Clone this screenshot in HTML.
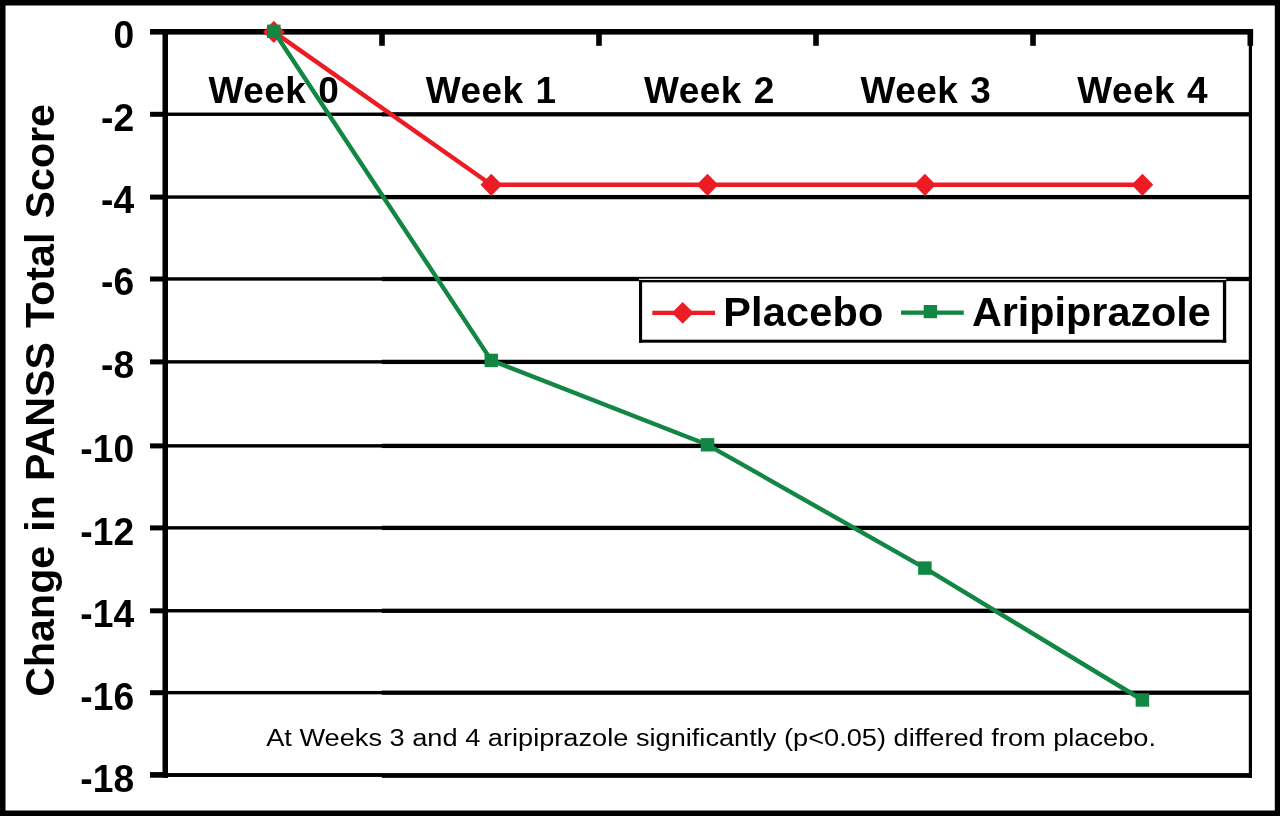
<!DOCTYPE html>
<html><head><meta charset="utf-8"><title>Change in PANSS Total Score</title>
<style>
html,body{margin:0;padding:0;background:#fff;}
body{width:1280px;height:816px;overflow:hidden;font-family:"Liberation Sans",sans-serif;}
svg{display:block;will-change:transform;}
text{font-family:"Liberation Sans",sans-serif;fill:#000;}
.b{font-weight:bold;}
</style></head><body>
<svg width="1280" height="816" viewBox="0 0 1280 816">
<rect x="0" y="0" width="1280" height="816" fill="#fff"/>
<path d="M0 0H1280V816H0Z M5.5 5.4V810.4H1274.8V5.4Z" fill="#000" fill-rule="evenodd"/>
<rect x="150" y="111.80" width="14" height="5" fill="#000"/>
<rect x="164" y="112.55" width="218" height="3.4" fill="#000"/>
<rect x="381.8" y="112.15" width="869" height="4.3" fill="#000"/>
<rect x="150" y="194.60" width="14" height="5" fill="#000"/>
<rect x="164" y="195.35" width="218" height="3.4" fill="#000"/>
<rect x="381.8" y="194.95" width="869" height="4.3" fill="#000"/>
<rect x="150" y="276.50" width="14" height="5" fill="#000"/>
<rect x="164" y="277.25" width="218" height="3.4" fill="#000"/>
<rect x="381.8" y="276.85" width="869" height="4.3" fill="#000"/>
<rect x="150" y="359.40" width="14" height="5" fill="#000"/>
<rect x="164" y="360.15" width="218" height="3.4" fill="#000"/>
<rect x="381.8" y="359.75" width="869" height="4.3" fill="#000"/>
<rect x="150" y="443.40" width="14" height="5" fill="#000"/>
<rect x="164" y="444.15" width="218" height="3.4" fill="#000"/>
<rect x="381.8" y="443.75" width="869" height="4.3" fill="#000"/>
<rect x="150" y="525.40" width="14" height="5" fill="#000"/>
<rect x="164" y="526.15" width="218" height="3.4" fill="#000"/>
<rect x="381.8" y="525.75" width="869" height="4.3" fill="#000"/>
<rect x="150" y="608.30" width="14" height="5" fill="#000"/>
<rect x="164" y="609.05" width="218" height="3.4" fill="#000"/>
<rect x="381.8" y="608.65" width="869" height="4.3" fill="#000"/>
<rect x="150" y="690.20" width="14" height="5" fill="#000"/>
<rect x="164" y="690.95" width="218" height="3.4" fill="#000"/>
<rect x="381.8" y="690.55" width="869" height="4.3" fill="#000"/>
<rect x="150" y="29" width="1103.1" height="5.6" fill="#000"/>
<rect x="150" y="772.10" width="18" height="5.6" fill="#000"/>
<rect x="164" y="773.05" width="218" height="3.9" fill="#000"/>
<rect x="381.8" y="773.10" width="870.2" height="4.75" fill="#000"/>
<rect x="162.5" y="29" width="5.5" height="748.75" fill="#000"/>
<rect x="1248.8" y="29" width="3.2" height="748.75" fill="#000"/>
<rect x="379.2" y="31" width="5.6" height="14.8" fill="#000"/>
<rect x="596.2" y="31" width="5.6" height="14.8" fill="#000"/>
<rect x="813.2" y="31" width="5.6" height="14.8" fill="#000"/>
<rect x="1030.2" y="31" width="5.6" height="14.8" fill="#000"/>
<rect x="1247.5" y="31" width="5.6" height="14.8" fill="#000"/>
<text class="b" transform="translate(134.1,47.50) scale(1,1.05)" font-size="37.2" text-anchor="end">0</text>
<text class="b" transform="translate(134.1,130.95) scale(1,1.05)" font-size="37.2" text-anchor="end">-2</text>
<text class="b" transform="translate(134.1,212.85) scale(1,1.05)" font-size="37.2" text-anchor="end">-4</text>
<text class="b" transform="translate(134.1,294.50) scale(1,1.05)" font-size="37.2" text-anchor="end">-6</text>
<text class="b" transform="translate(134.1,377.50) scale(1,1.05)" font-size="37.2" text-anchor="end">-8</text>
<text class="b" transform="translate(134.1,461.90) scale(1,1.05)" font-size="37.2" text-anchor="end">-10</text>
<text class="b" transform="translate(134.1,544.80) scale(1,1.05)" font-size="37.2" text-anchor="end">-12</text>
<text class="b" transform="translate(134.1,626.50) scale(1,1.05)" font-size="37.2" text-anchor="end">-14</text>
<text class="b" transform="translate(134.1,709.70) scale(1,1.05)" font-size="37.2" text-anchor="end">-16</text>
<text class="b" transform="translate(134.1,791.70) scale(1,1.05)" font-size="37.2" text-anchor="end">-18</text>
<text class="b" x="208.5" y="102.9" font-size="37" letter-spacing="0.45" word-spacing="1.2">Week 0</text>
<text class="b" x="425.7" y="102.9" font-size="37" letter-spacing="0.45" word-spacing="1.2">Week 1</text>
<text class="b" x="644.0" y="102.9" font-size="37" letter-spacing="0.45" word-spacing="1.2">Week 2</text>
<text class="b" x="860.5" y="102.9" font-size="37" letter-spacing="0.45" word-spacing="1.2">Week 3</text>
<text class="b" x="1077.3" y="102.9" font-size="37" letter-spacing="0.45" word-spacing="1.2">Week 4</text>
<text class="b" transform="translate(54.3,400.4) rotate(-90)" font-size="41.2" word-spacing="2.7" text-anchor="middle">Change in PANSS Total Score</text>
<text x="266.2" y="746.2" font-size="23" textLength="889.8" lengthAdjust="spacingAndGlyphs">At Weeks 3 and 4 aripiprazole significantly (p&lt;0.05) differed from placebo.</text>
<polyline points="273.8,31.9 491.3,184.8 707.5,184.8 924.9,184.8 1142.4,184.8" fill="none" stroke="#ed1c24" stroke-width="4.4" stroke-linejoin="round"/>
<path d="M263.0 31.9L273.8 20.8L284.6 31.9L273.8 43.0Z" fill="#ed1c24"/>
<path d="M480.5 184.8L491.3 173.7L502.1 184.8L491.3 195.9Z" fill="#ed1c24"/>
<path d="M696.7 184.8L707.5 173.7L718.3 184.8L707.5 195.9Z" fill="#ed1c24"/>
<path d="M914.1 184.8L924.9 173.7L935.7 184.8L924.9 195.9Z" fill="#ed1c24"/>
<path d="M1131.6 184.8L1142.4 173.7L1153.2 184.8L1142.4 195.9Z" fill="#ed1c24"/>
<polyline points="273.8,31.3 491.3,360.4 707.5,444.8 924.9,568.1 1142.4,700.0" fill="none" stroke="#128643" stroke-width="4.4" stroke-linejoin="round"/>
<rect x="267.05" y="24.60" width="13.5" height="13.4" fill="#128643"/>
<rect x="484.55" y="353.70" width="13.5" height="13.4" fill="#128643"/>
<rect x="700.75" y="438.10" width="13.5" height="13.4" fill="#128643"/>
<rect x="918.15" y="561.40" width="13.5" height="13.4" fill="#128643"/>
<rect x="1135.65" y="693.30" width="13.5" height="13.4" fill="#128643"/>
<rect x="639" y="278.75" width="587.2" height="64" fill="#fff"/>
<rect x="639" y="279.95" width="587.2" height="2.4" fill="#000"/>
<rect x="639" y="339.7" width="587.2" height="3" fill="#000"/>
<rect x="639" y="279.95" width="3.1" height="62.75" fill="#000"/>
<rect x="1222.9" y="279.95" width="3.3" height="62.75" fill="#000"/>
<rect x="652.3" y="310.7" width="62.7" height="4.3" fill="#ed1c24"/>
<path d="M671.9 312.8L682.7 301.9L693.5 312.8L682.7 323.7Z" fill="#ed1c24"/>
<text class="b" x="723.2" y="325.7" font-size="41.5" letter-spacing="0.15">Placebo</text>
<rect x="901" y="310.5" width="62.8" height="4.3" fill="#128643"/>
<rect x="923.7" y="305" width="13.4" height="13.2" fill="#128643"/>
<text class="b" x="971.9" y="325.7" font-size="41.35">Aripiprazole</text>
</svg>
</body></html>
